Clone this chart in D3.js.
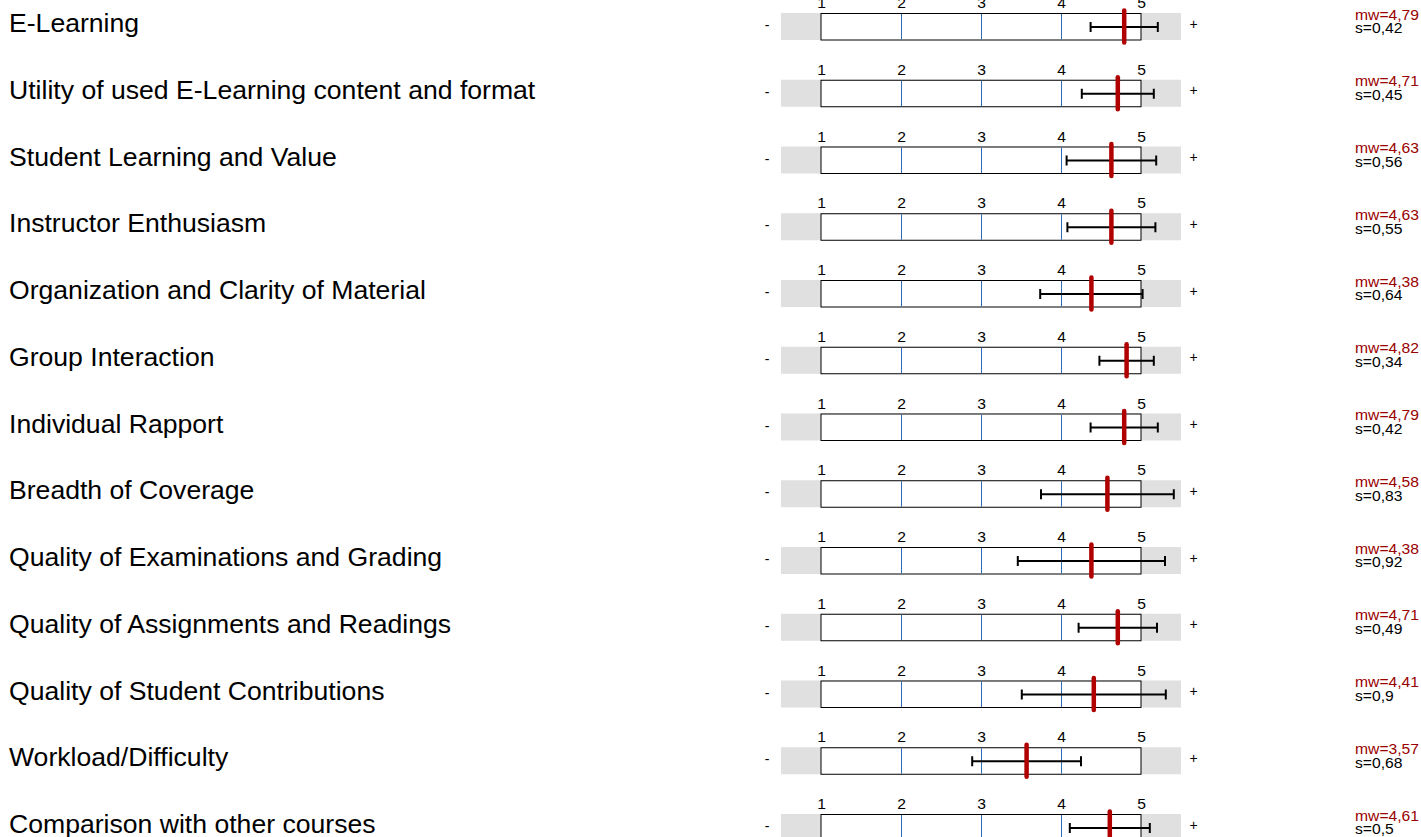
<!DOCTYPE html>
<html><head><meta charset="utf-8">
<script src="https://cdn.jsdelivr.net/npm/d3@7"></script>
<style>
html,body{margin:0;padding:0;background:#fff;}
svg{display:block;font-family:"Liberation Sans",Arial,sans-serif;}
</style></head>
<body>
<svg id="chart" width="1421" height="837"></svg>
<script>
const categories = [
  "E-Learning",
  "Utility of used E-Learning content and format",
  "Student Learning and Value",
  "Instructor Enthusiasm",
  "Organization and Clarity of Material",
  "Group Interaction",
  "Individual Rapport",
  "Breadth of Coverage",
  "Quality of Examinations and Grading",
  "Quality of Assignments and Readings",
  "Quality of Student Contributions",
  "Workload/Difficulty",
  "Comparison with other courses"
];
const means = [4.79, 4.71, 4.63, 4.63, 4.38, 4.82, 4.79, 4.58, 4.38, 4.71, 4.41, 3.57, 4.61];
const sds   = [0.42, 0.45, 0.56, 0.55, 0.64, 0.34, 0.42, 0.83, 0.92, 0.49, 0.9, 0.68, 0.5];
const meanLabels = ["4,79","4,71","4,63","4,63","4,38","4,82","4,79","4,58","4,38","4,71","4,41","3,57","4,61"];
const sdLabels   = ["0,42","0,45","0,56","0,55","0,64","0,34","0,42","0,83","0,92","0,49","0,9","0,68","0,5"];
const tickValues = [1, 2, 3, 4, 5];

const svg = d3.select("#chart");
const x = d3.scaleLinear().domain([1, 5]).range([821, 1141]);
const y = d3.scaleLinear().domain([0, categories.length - 1]).range([13, 13 + 12 * 66.75]);
const boxH = 27;

const rows = svg.selectAll("g.row").data(categories).join("g")
  .attr("class", "row")
  .attr("transform", (d, i) => `translate(0,${y(i)})`);

rows.append("text")
  .attr("x", 9).attr("y", 19)
  .attr("font-size", "26.6px").attr("fill", "#000")
  .text(d => d);

rows.append("rect")
  .attr("x", x(0.5)).attr("y", 0)
  .attr("width", x(5.5) - x(0.5)).attr("height", boxH)
  .attr("fill", "#e0e0e0");

rows.append("rect")
  .attr("x", x(1)).attr("y", 0.5)
  .attr("width", x(5) - x(1)).attr("height", boxH - 0.5)
  .attr("fill", "#fff").attr("stroke", "#000").attr("stroke-width", 1);

rows.each(function(d, i) {
  const g = d3.select(this);
  g.selectAll("line.grid").data([2, 3, 4]).join("line")
    .attr("class", "grid")
    .attr("x1", v => x(v) + 0.5).attr("x2", v => x(v) + 0.5)
    .attr("y1", 1).attr("y2", boxH - 0.5)
    .attr("stroke", "#2f6db8").attr("stroke-width", 1);

  const ax = d3.axisTop(x).tickValues(tickValues).tickSize(0).tickPadding(5).tickFormat(d3.format("d"));
  const axg = g.append("g").call(ax);
  axg.select(".domain").remove();
  axg.attr("font-size", null).attr("font-family", null);
  axg.selectAll(".tick text")
    .style("font-size", "14px").attr("fill", "#000")
    .attr("transform", "scale(1.12,1)");

  const cy = boxH / 2 + 0.5;
  const lo = means[i] - sds[i], hi = means[i] + sds[i];
  g.append("line").attr("x1", x(lo)).attr("x2", x(hi)).attr("y1", cy).attr("y2", cy)
    .attr("stroke", "#000").attr("stroke-width", 2);
  g.selectAll("line.cap").data([lo, hi]).join("line").attr("class", "cap")
    .attr("x1", v => x(v)).attr("x2", v => x(v)).attr("y1", cy - 5).attr("y2", cy + 5)
    .attr("stroke", "#000").attr("stroke-width", 2);

  g.append("line").attr("x1", x(means[i])).attr("x2", x(means[i]))
    .attr("y1", -2.5).attr("y2", boxH + 2.5)
    .attr("stroke", "#b00000").attr("stroke-width", 4.5).attr("stroke-linecap", "round");

  g.append("text").attr("x", 767).attr("y", cy + 3).attr("text-anchor", "middle")
    .attr("font-size", "14px").attr("fill", "#000").text("-");
  g.append("text").attr("x", 1193.5).attr("y", cy + 1.5).attr("text-anchor", "middle")
    .attr("font-size", "14px").attr("fill", "#000").text("+");

  const tg = g.append("g").attr("transform", "translate(1355,0) scale(1.12,1)");
  tg.append("text").attr("x", 0).attr("y", 6.5)
    .attr("font-size", "14px").attr("fill", "#990000")
    .text("mw=" + meanLabels[i]);
  tg.append("text").attr("x", 0).attr("y", 20.5)
    .attr("font-size", "14px").attr("fill", "#000")
    .text("s=" + sdLabels[i]);
});
</script>
</body></html>
